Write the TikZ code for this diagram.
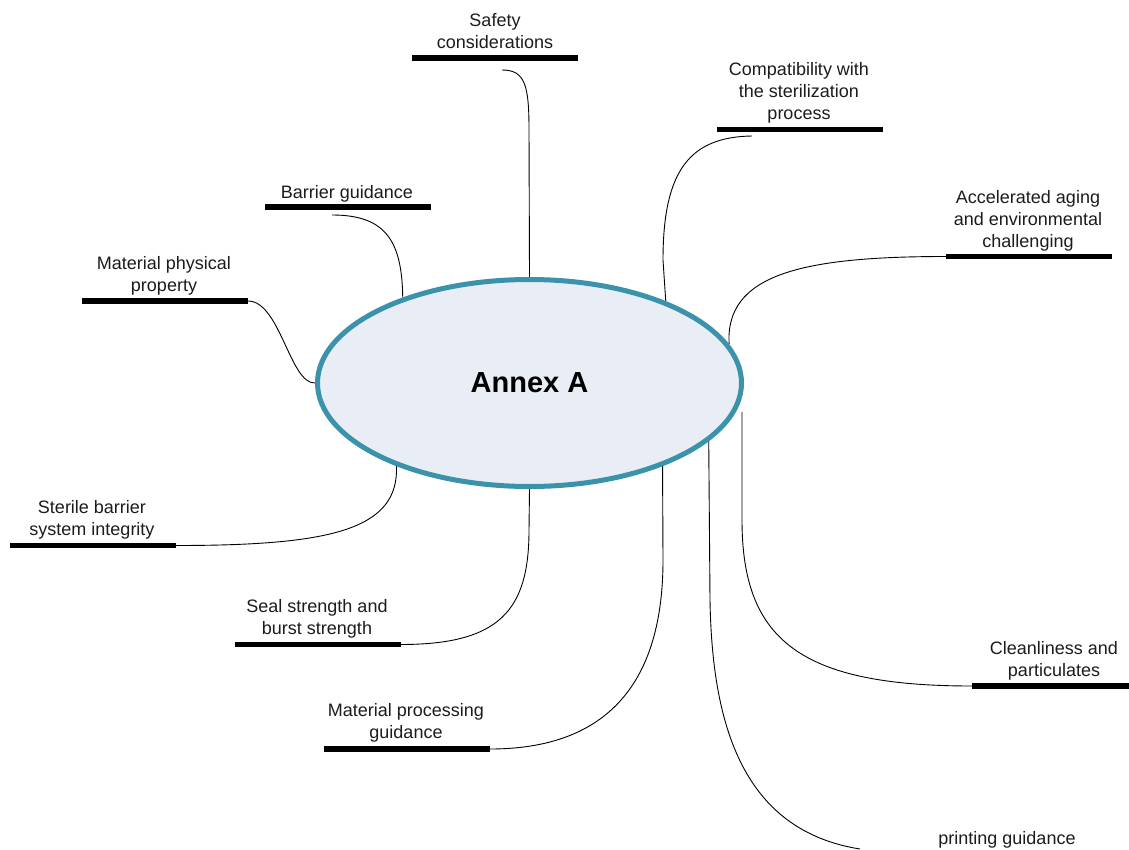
\documentclass[tikz,border=0pt]{standalone}
\usepackage{fontspec}
\setmainfont{Liberation Sans}
\usetikzlibrary{shapes.geometric,backgrounds}
\definecolor{rim}{RGB}{58,146,171}
\definecolor{core}{RGB}{232,237,246}
\definecolor{ink}{RGB}{28,28,28}
\begin{document}
\begin{tikzpicture}[x=1pt,y=-1pt,
  lbl/.style={font=\fontsize{18}{22}\selectfont, text=ink, align=center, inner sep=0pt, text depth=0pt, anchor=south},
  barnode/.style={fill=black, minimum width=166pt, minimum height=5.5pt, inner sep=0pt, outer sep=0pt},
  link/.style={draw=black, line width=0.9pt}]
\path[use as bounding box] (0,0) rectangle (1129,850);

% central ellipse
\node[ellipse, draw=rim, fill=core, line width=5pt, minimum width=424pt, minimum height=207pt, inner sep=0pt]
  (annex) at (529.5,383) {\fontsize{29}{34}\selectfont\bfseries Annex A};

% bars
\node[barnode] (safetybar)  at (495,58) {};
\node[barnode] (compatbar)  at (800,129.5) {};
\node[barnode] (barrierbar) at (348,207) {};
\node[barnode] (physbar)    at (165,301) {};
\node[barnode] (sterilebar) at (93,545.5) {};
\node[barnode] (sealbar)    at (318,644.5) {};
\node[barnode] (procbar)    at (407,749) {};
\node[barnode] (agingbar)   at (1029,256.5) {};
\node[barnode, minimum width=157pt] (cleanbar) at (1050.5,686) {};

% labels
\node[lbl] (safety)   at (495,49)    {Safety\\considerations};
\node[lbl] (compat)   at (799,119.5) {Compatibility with\\the sterilization\\process};
\node[lbl] (barrier)  at (347,198.5) {Barrier guidance};
\node[lbl] (phys)     at (164,291.5) {Material physical\\property};
\node[lbl] (sterile)  at (92,535.5)  {Sterile barrier\\system integrity};
\node[lbl] (seal)     at (317,635)   {Seal strength and\\burst strength};
\node[lbl] (proc)     at (406,739)   {Material processing\\guidance};
\node[lbl] (aging)    at (1028,247.5){Accelerated aging\\and environmental\\challenging};
\node[lbl] (clean)    at (1054,677)  {Cleanliness and\\particulates};
\node[lbl] (printing) at (1007,845)  {printing guidance};

% connector free ends
\coordinate (safetyc)  at (502,70);
\coordinate (compatc)  at (752,136);
\coordinate (barrierc) at (332,215);
\coordinate (cleanc)   at (742,412);
\coordinate (printc)   at (860,849);

\begin{pgfonlayer}{background}
\fill[white] (0,0) rectangle (1129,850);
\draw[link] (safetyc) .. controls (525,70) and (529,85) .. (529,130) -- (annex.north);
\draw[link] (compatc) .. controls (690,137) and (663,170) .. (663,260) -- (annex.31.4);
\draw[link] (barrierc) .. controls (385,215) and (402,240) .. (annex.146.9);
\draw[link] (physbar.east) .. controls (280,301) and (290,384) .. (annex.west);
\draw[link] (sterilebar.east) .. controls (330,545.5) and (399,530) .. (annex.212.1);
\draw[link] (sealbar.east) .. controls (500,644.5) and (529,610) .. (529,530) -- (annex.south);
\draw[link] (procbar.east) .. controls (610,749) and (663,680) .. (663,560) -- (annex.328.4);
\draw[link] (agingbar.west) .. controls (800,256.5) and (725,275) .. (annex.11.56);
\draw[link] (cleanbar.west) .. controls (800,686) and (742,640) .. (742,520) -- (cleanc);
\draw[link] (printc) .. controls (740,830) and (712,720) .. (710,600) -- (annex.342.2);
\end{pgfonlayer}
\end{tikzpicture}
\end{document}
